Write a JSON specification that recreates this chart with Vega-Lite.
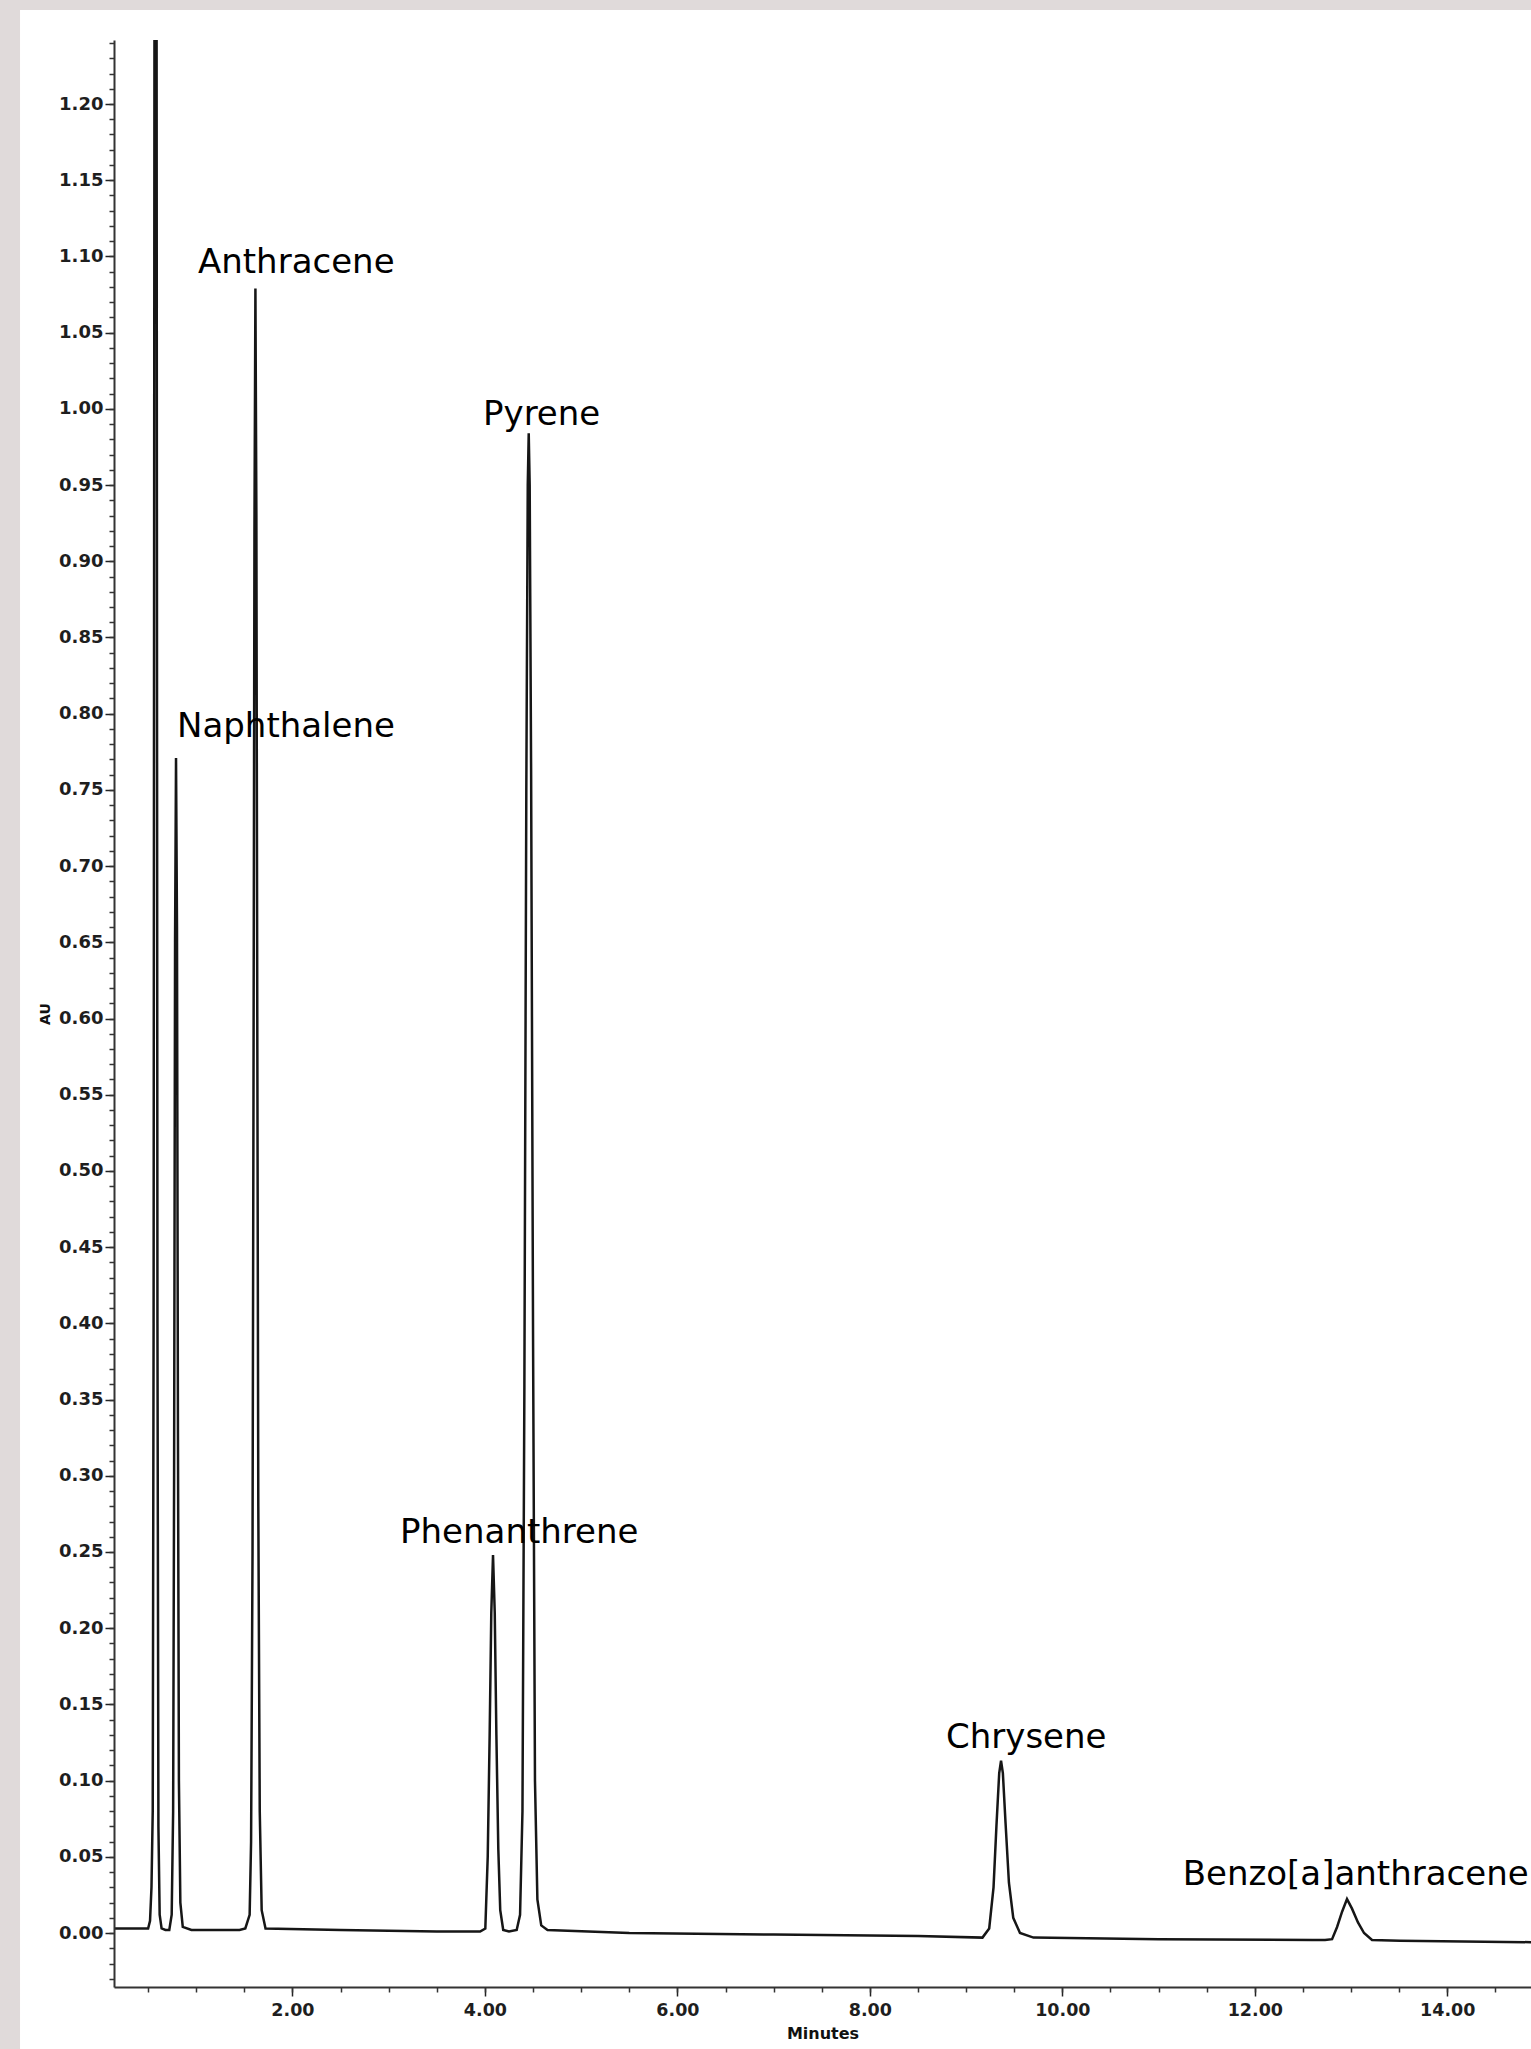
{
  "$schema": "https://vega.github.io/schema/vega-lite/v6.json",
  "width": 1417,
  "height": 1947,
  "autosize": {"type": "none"},
  "padding": {"left": 114, "top": 40, "right": 0, "bottom": 62},
  "background": "#e0dada",
  "config": {"view": {"stroke": null}},
  "datasets": {
    "trace": [
      {"t": 0.15, "au": 0.003},
      {"t": 0.50, "au": 0.003},
      {"t": 0.52, "au": 0.008},
      {"t": 0.535, "au": 0.03},
      {"t": 0.548, "au": 0.08},
      {"t": 0.557, "au": 0.4},
      {"t": 0.567, "au": 1.35},
      {"t": 0.577, "au": 1.8},
      {"t": 0.587, "au": 1.35},
      {"t": 0.597, "au": 0.4},
      {"t": 0.607, "au": 0.07},
      {"t": 0.62, "au": 0.012},
      {"t": 0.64, "au": 0.003},
      {"t": 0.68, "au": 0.002},
      {"t": 0.72, "au": 0.002},
      {"t": 0.745, "au": 0.012},
      {"t": 0.76, "au": 0.08},
      {"t": 0.77, "au": 0.3},
      {"t": 0.78, "au": 0.65},
      {"t": 0.79, "au": 0.771},
      {"t": 0.80, "au": 0.66},
      {"t": 0.81, "au": 0.33},
      {"t": 0.82, "au": 0.1},
      {"t": 0.835, "au": 0.02},
      {"t": 0.86, "au": 0.004},
      {"t": 0.95, "au": 0.002},
      {"t": 1.2, "au": 0.002},
      {"t": 1.45, "au": 0.002},
      {"t": 1.51, "au": 0.003},
      {"t": 1.555, "au": 0.012},
      {"t": 1.57, "au": 0.06},
      {"t": 1.585, "au": 0.25},
      {"t": 1.595, "au": 0.55},
      {"t": 1.605, "au": 0.92},
      {"t": 1.615, "au": 1.079},
      {"t": 1.625, "au": 0.93},
      {"t": 1.635, "au": 0.58},
      {"t": 1.645, "au": 0.28},
      {"t": 1.66, "au": 0.08},
      {"t": 1.68, "au": 0.015},
      {"t": 1.72, "au": 0.003},
      {"t": 2.5, "au": 0.002},
      {"t": 3.5, "au": 0.001},
      {"t": 3.95, "au": 0.001},
      {"t": 4.004, "au": 0.003},
      {"t": 4.029, "au": 0.05},
      {"t": 4.049, "au": 0.13},
      {"t": 4.066, "au": 0.21},
      {"t": 4.084, "au": 0.248},
      {"t": 4.102, "au": 0.21},
      {"t": 4.119, "au": 0.13},
      {"t": 4.139, "au": 0.055},
      {"t": 4.159, "au": 0.015},
      {"t": 4.19, "au": 0.002},
      {"t": 4.25, "au": 0.001},
      {"t": 4.33, "au": 0.002},
      {"t": 4.365, "au": 0.012},
      {"t": 4.39, "au": 0.08},
      {"t": 4.41, "au": 0.36},
      {"t": 4.43, "au": 0.75},
      {"t": 4.445, "au": 0.95},
      {"t": 4.455, "au": 0.984},
      {"t": 4.465, "au": 0.95},
      {"t": 4.48, "au": 0.76},
      {"t": 4.50, "au": 0.39},
      {"t": 4.52, "au": 0.10},
      {"t": 4.545, "au": 0.022},
      {"t": 4.585, "au": 0.005},
      {"t": 4.65, "au": 0.002},
      {"t": 5.5, "au": 0.0},
      {"t": 7.0, "au": -0.001},
      {"t": 8.5, "au": -0.002},
      {"t": 9.17, "au": -0.003},
      {"t": 9.24, "au": 0.003},
      {"t": 9.285, "au": 0.03},
      {"t": 9.315, "au": 0.07},
      {"t": 9.344, "au": 0.105},
      {"t": 9.363, "au": 0.113},
      {"t": 9.382, "au": 0.105},
      {"t": 9.41, "au": 0.072},
      {"t": 9.445, "au": 0.033},
      {"t": 9.49, "au": 0.01},
      {"t": 9.56, "au": 0.0},
      {"t": 9.70, "au": -0.003},
      {"t": 11.0, "au": -0.004},
      {"t": 12.6, "au": -0.0045},
      {"t": 12.73, "au": -0.0045},
      {"t": 12.803, "au": -0.004},
      {"t": 12.855, "au": 0.004},
      {"t": 12.907, "au": 0.014},
      {"t": 12.958, "au": 0.0223},
      {"t": 13.010, "au": 0.016},
      {"t": 13.072, "au": 0.007},
      {"t": 13.135, "au": 0.0},
      {"t": 13.218, "au": -0.0045},
      {"t": 13.509, "au": -0.005},
      {"t": 14.87, "au": -0.006}
    ],
    "labels": [
      {"t": 1.018, "au": 1.0891, "label": "Anthracene"},
      {"t": 0.800, "au": 0.7847, "label": "Naphthalene"},
      {"t": 3.980, "au": 0.9894, "label": "Pyrene"},
      {"t": 3.118, "au": 0.2559, "label": "Phenanthrene"},
      {"t": 8.791, "au": 0.1214, "label": "Chrysene"},
      {"t": 11.25, "au": 0.0315, "label": "Benzo[a]anthracene"}
    ]
  },
  "resolve": {"axis": {"x": "independent", "y": "independent"}},
  "layer": [
    {
      "data": {"values": [{}]},
      "mark": {"type": "rect", "color": "#ffffff"},
      "encoding": {
        "x": {"datum": -0.831, "type": "quantitative", "scale": {"domain": [0.1455, 14.87], "nice": false, "zero": false}, "axis": null},
        "x2": {"datum": 15.5},
        "y": {"datum": 1.2617, "type": "quantitative", "scale": {"domain": [-0.0354, 1.242], "nice": false, "zero": false}, "axis": null},
        "y2": {"datum": -0.1}
      }
    },
    {
      "data": {"name": "trace"},
      "mark": {"type": "line", "clip": true, "color": "#161616", "strokeWidth": 2.5},
      "encoding": {
        "x": {
          "field": "t", "type": "quantitative",
          "scale": {"domain": [0.1455, 14.87], "nice": false, "zero": false},
          "axis": {
            "orient": "bottom", "values": [2, 4, 6, 8, 10, 12, 14], "format": ".2f",
            "title": "Minutes", "titleFont": "DejaVu Sans", "titleFontSize": 16, "titleFontWeight": "bold", "titleColor": "#111", "titlePadding": 7,
            "labelFont": "DejaVu Sans", "labelFontSize": 17.5, "labelFontWeight": "bold", "labelColor": "#1e1e1e", "labelPadding": 5,
            "labelFlush": false, "labelOverlap": false,
            "tickSize": 9, "tickColor": "#222", "tickWidth": 1.5,
            "domainColor": "#333", "domainWidth": 2, "grid": false, "zindex": 1
          }
        },
        "y": {
          "field": "au", "type": "quantitative",
          "scale": {"domain": [-0.0354, 1.242], "nice": false, "zero": false},
          "axis": {
            "orient": "left",
            "values": [0, 0.05, 0.1, 0.15, 0.2, 0.25, 0.3, 0.35, 0.4, 0.45, 0.5, 0.55, 0.6, 0.65, 0.7, 0.75, 0.8, 0.85, 0.9, 0.95, 1.0, 1.05, 1.1, 1.15, 1.2],
            "format": ".2f",
            "title": "AU", "titleFont": "DejaVu Sans", "titleFontSize": 14, "titleFontWeight": "bold", "titleColor": "#111", "titlePadding": 6,
            "labelFont": "DejaVu Sans", "labelFontSize": 18, "labelFontWeight": "bold", "labelColor": "#1e1e1e", "labelPadding": 2,
            "labelFlush": false, "labelOverlap": false,
            "tickSize": 9, "tickColor": "#222", "tickWidth": 1.5,
            "domainColor": "#333", "domainWidth": 2, "grid": false, "zindex": 1
          }
        }
      }
    },
    {
      "data": {"name": "labels"},
      "mark": {"type": "text", "font": "DejaVu Sans", "fontSize": 34, "align": "left", "baseline": "alphabetic", "color": "#000000", "clip": true},
      "encoding": {
        "x": {
          "field": "t", "type": "quantitative",
          "scale": {"domain": [0.1455, 14.87], "nice": false, "zero": false},
          "axis": {"orient": "bottom", "tickCount": 30, "labels": false, "domain": false, "title": null, "tickSize": 5, "tickColor": "#333", "tickWidth": 1.5, "grid": false, "zindex": 1}
        },
        "y": {
          "field": "au", "type": "quantitative",
          "scale": {"domain": [-0.0354, 1.242], "nice": false, "zero": false},
          "axis": {"orient": "left", "tickCount": 128, "labels": false, "domain": false, "title": null, "tickSize": 5, "tickColor": "#333", "tickWidth": 1.5, "grid": false, "zindex": 1}
        },
        "text": {"field": "label"}
      }
    }
  ]
}
